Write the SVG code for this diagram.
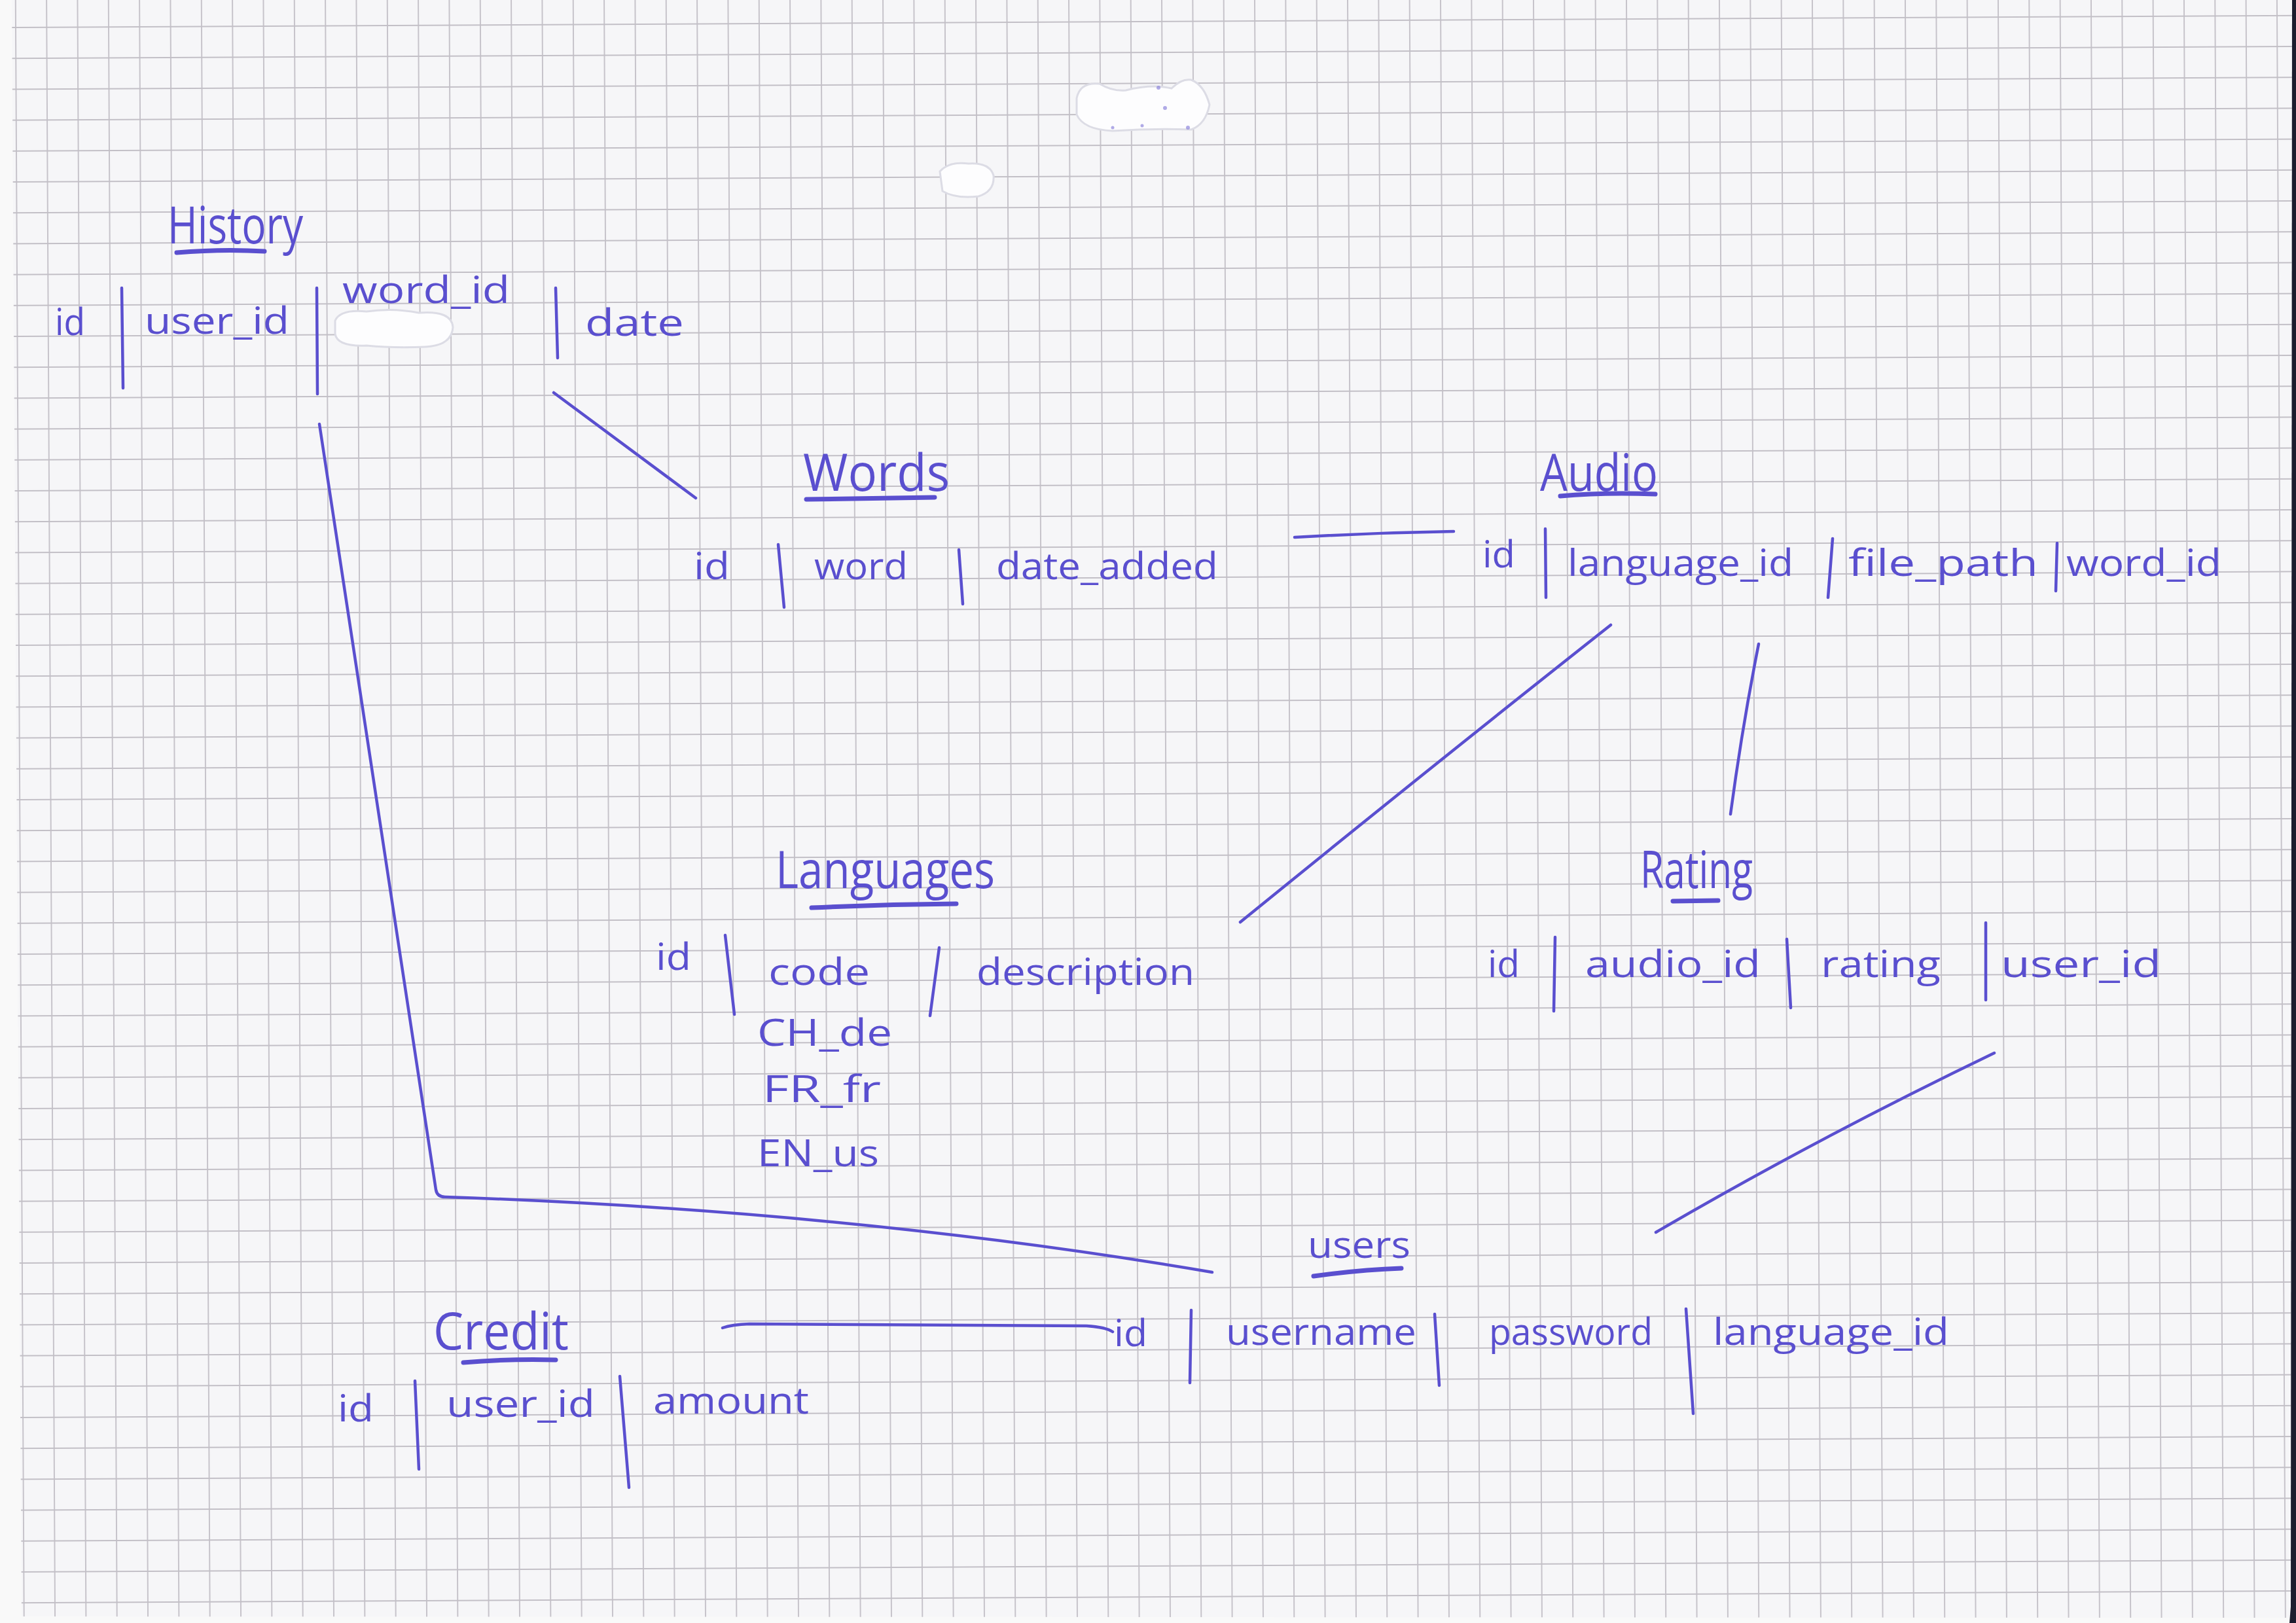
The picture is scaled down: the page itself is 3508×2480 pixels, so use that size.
<svg xmlns="http://www.w3.org/2000/svg" width="3508" height="2480" viewBox="0 0 3508 2480">
<style>
  .t{font-family:"Open Sans","Liberation Sans",sans-serif;font-weight:400;fill:#5a4fcf;font-size:56px}
  .title{font-size:78px}
  .ink{fill:none;stroke:#5a4fcf;stroke-width:4.5;stroke-linecap:round;stroke-linejoin:round}
  .ul{fill:none;stroke:#5a4fcf;stroke-width:7;stroke-linecap:round}
  .wo{fill:#fdfdfe;stroke:#dcdce5;stroke-width:3}
</style>
<defs>
  <pattern id="grid" patternUnits="userSpaceOnUse" width="47.33" height="47.2" patternTransform="translate(24,42) rotate(-0.3)">
    <rect width="47.33" height="47.2" fill="#f6f6f8"/>
    <path d="M0,0V47.2M47.33,0V47.2M0,0H47.33M0,47.2H47.33" stroke="#c2bfc6" stroke-width="1.8" fill="none"/>
  </pattern>
</defs>
<rect width="3508" height="2480" fill="#f9f9f9"/>
<polygon points="18,0 3502,0 3500,2472 33,2470" fill="url(#grid)"/>
<polygon points="3502,0 3508,0 3508,2480 3500,2480" fill="#1c1d2e"/>
<polygon points="3500,2455 3508,2440 3508,2480 3498,2480" fill="#1c1d2e"/>

<g id="whiteout">
  <path class="wo" d="M1645,150 Q1650,125 1680,128 Q1700,140 1720,138 Q1760,128 1790,135 Q1805,120 1820,122 Q1840,130 1848,160 Q1842,190 1820,198 Q1760,196 1700,200 Q1655,198 1645,175 Z"/>
  <path class="wo" d="M1436,262 Q1450,246 1480,250 Q1512,248 1518,268 Q1520,292 1495,300 Q1460,304 1440,292 Z"/>
  <g fill="#7d74d8" opacity="0.6">
    <circle cx="1770" cy="134" r="3"/><circle cx="1700" cy="195" r="2.5"/><circle cx="1745" cy="192" r="2.5"/><circle cx="1815" cy="195" r="3"/><circle cx="1780" cy="165" r="3"/>
  </g>
</g>

<g id="connectors">
  <path class="ink" d="M846,600 L1063,761"/>
  <path class="ink" d="M1978,821 Q2100,814 2221,812"/>
  <path class="ink" d="M488,648 L666,1818 Q668,1829 680,1829 Q1300,1850 1852,1944"/>
  <path class="ink" d="M2461,955 Q2195,1165 1895,1409"/>
  <path class="ink" d="M2687,984 Q2662,1110 2644,1244"/>
  <path class="ink" d="M3047,1609 Q2775,1740 2530,1883"/>
  <path class="ink" d="M1104,2029 Q1118,2024 1145,2023 L1660,2026 Q1690,2028 1700,2035"/>
</g>

<g id="history">
  <text class="t title" x="256" y="372" textLength="207" lengthAdjust="spacingAndGlyphs">History</text>
  <path class="ul" d="M270,386 Q340,380 404,384"/>
  <text class="t" x="84" y="512" textLength="46" lengthAdjust="spacingAndGlyphs">id</text>
  <path class="ink" d="M186,440 L188,593"/>
  <text class="t" x="221" y="510" textLength="221" lengthAdjust="spacingAndGlyphs">user_id</text>
  <path class="ink" d="M484,440 L485,602"/>
  <text class="t" x="523" y="463" textLength="256" lengthAdjust="spacingAndGlyphs">word_id</text>
  <path class="wo" d="M512,490 Q520,472 560,476 Q600,470 640,478 Q690,474 692,500 Q690,528 650,530 Q600,532 560,528 Q515,530 512,510 Z"/>
  <path class="ink" d="M849,440 L852,547"/>
  <text class="t" x="894" y="513" textLength="151" lengthAdjust="spacingAndGlyphs">date</text>
</g>

<g id="words">
  <text class="t title" x="1227" y="750" textLength="224" lengthAdjust="spacingAndGlyphs">Words</text>
  <path class="ul" d="M1232,763 L1428,760"/>
  <text class="t" x="1060" y="885" textLength="55" lengthAdjust="spacingAndGlyphs">id</text>
  <path class="ink" d="M1189,832 L1198,928"/>
  <text class="t" x="1244" y="885" textLength="143" lengthAdjust="spacingAndGlyphs">word</text>
  <path class="ink" d="M1465,840 L1471,923"/>
  <text class="t" x="1522" y="885" textLength="339" lengthAdjust="spacingAndGlyphs">date_added</text>
</g>

<g id="audio">
  <text class="t title" x="2353" y="750" textLength="180" lengthAdjust="spacingAndGlyphs">Audio</text>
  <path class="ul" d="M2384,758 Q2450,752 2529,755"/>
  <text class="t" x="2265" y="867" textLength="50" lengthAdjust="spacingAndGlyphs">id</text>
  <path class="ink" d="M2361,808 L2362,913"/>
  <text class="t" x="2395" y="880" textLength="345" lengthAdjust="spacingAndGlyphs">language_id</text>
  <path class="ink" d="M2800,823 L2793,913"/>
  <text class="t" x="2824" y="880" textLength="290" lengthAdjust="spacingAndGlyphs">file_path</text>
  <path class="ink" d="M3143,830 L3141,903"/>
  <text class="t" x="3157" y="880" textLength="237" lengthAdjust="spacingAndGlyphs">word_id</text>
</g>

<g id="languages">
  <text class="t title" x="1185" y="1357" textLength="335" lengthAdjust="spacingAndGlyphs">Languages</text>
  <path class="ul" d="M1240,1387 Q1350,1382 1461,1381"/>
  <text class="t" x="1002" y="1482" textLength="54" lengthAdjust="spacingAndGlyphs">id</text>
  <path class="ink" d="M1108,1429 L1122,1550"/>
  <text class="t" x="1174" y="1505" textLength="155" lengthAdjust="spacingAndGlyphs">code</text>
  <path class="ink" d="M1435,1448 L1421,1552"/>
  <text class="t" x="1492" y="1505" textLength="333" lengthAdjust="spacingAndGlyphs">description</text>
  <text class="t" x="1157" y="1598" textLength="206" lengthAdjust="spacingAndGlyphs">CH_de</text>
  <text class="t" x="1165" y="1684" textLength="181" lengthAdjust="spacingAndGlyphs">FR_fr</text>
  <text class="t" x="1157" y="1782" textLength="186" lengthAdjust="spacingAndGlyphs">EN_us</text>
</g>

<g id="rating">
  <text class="t title" x="2506" y="1357" textLength="172" lengthAdjust="spacingAndGlyphs">Rating</text>
  <path class="ul" d="M2556,1377 L2625,1376"/>
  <text class="t" x="2273" y="1493" textLength="49" lengthAdjust="spacingAndGlyphs">id</text>
  <path class="ink" d="M2376,1432 L2374,1545"/>
  <text class="t" x="2422" y="1493" textLength="268" lengthAdjust="spacingAndGlyphs">audio_id</text>
  <path class="ink" d="M2730,1435 L2736,1540"/>
  <text class="t" x="2782" y="1493" textLength="183" lengthAdjust="spacingAndGlyphs">rating</text>
  <path class="ink" d="M3034,1410 L3034,1528"/>
  <text class="t" x="3057" y="1493" textLength="245" lengthAdjust="spacingAndGlyphs">user_id</text>
</g>

<g id="users">
  <text class="t" x="1998" y="1922" font-size="66" textLength="157" lengthAdjust="spacingAndGlyphs">users</text>
  <path class="ul" d="M2007,1950 Q2080,1940 2141,1938"/>
  <text class="t" x="1702" y="2057" textLength="51" lengthAdjust="spacingAndGlyphs">id</text>
  <path class="ink" d="M1820,2002 L1818,2113"/>
  <text class="t" x="1873" y="2055" textLength="291" lengthAdjust="spacingAndGlyphs">username</text>
  <path class="ink" d="M2192,2008 L2199,2117"/>
  <text class="t" x="2275" y="2055" textLength="250" lengthAdjust="spacingAndGlyphs">password</text>
  <path class="ink" d="M2576,2000 L2587,2160"/>
  <text class="t" x="2617" y="2055" textLength="361" lengthAdjust="spacingAndGlyphs">language_id</text>
</g>

<g id="credit">
  <text class="t title" x="662" y="2062" textLength="207" lengthAdjust="spacingAndGlyphs">Credit</text>
  <path class="ul" d="M708,2082 Q780,2076 849,2078"/>
  <text class="t" x="516" y="2172" textLength="55" lengthAdjust="spacingAndGlyphs">id</text>
  <path class="ink" d="M634,2110 L640,2245"/>
  <text class="t" x="682" y="2165" textLength="227" lengthAdjust="spacingAndGlyphs">user_id</text>
  <path class="ink" d="M947,2103 L961,2273"/>
  <text class="t" x="998" y="2160" textLength="238" lengthAdjust="spacingAndGlyphs">amount</text>
</g>
</svg>
